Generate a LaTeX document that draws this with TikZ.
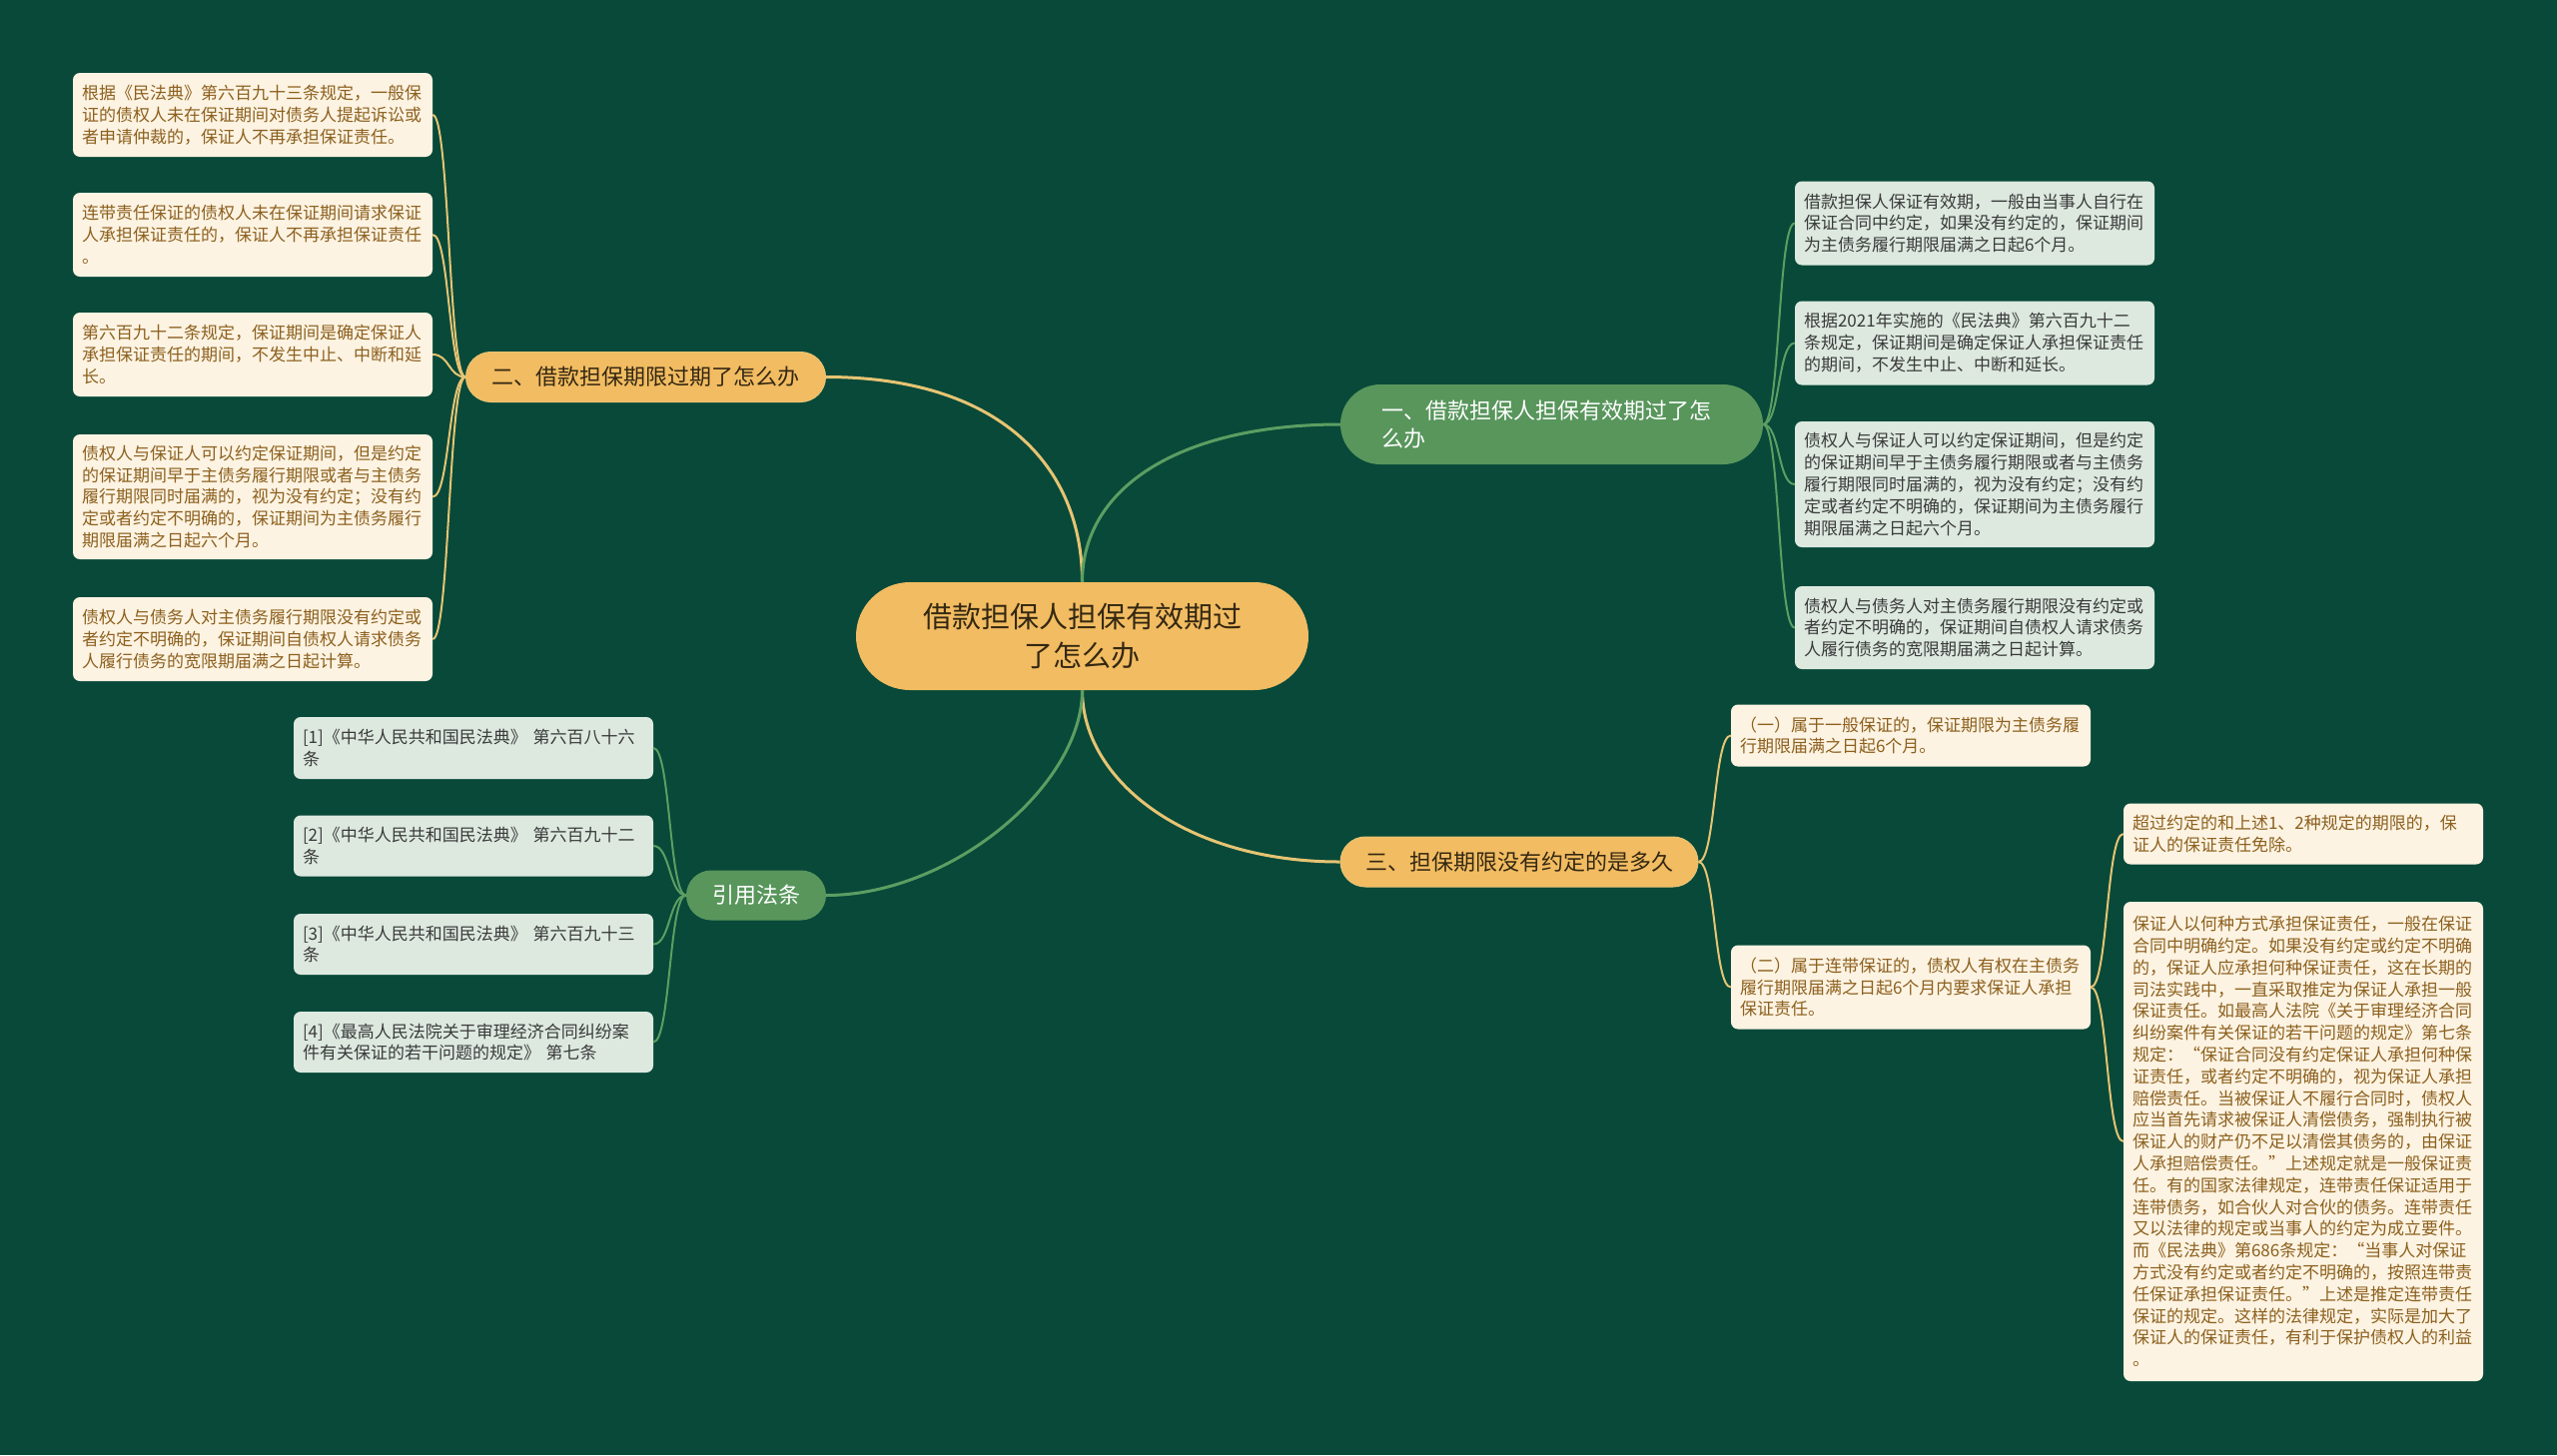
\documentclass[tikz,border=0pt]{standalone}
\usepackage{fontspec}
\newfontfamily\cjk{Noto Sans CJK SC}
\definecolor{bgc}{RGB}{8,73,57}
\definecolor{orangefill}{RGB}{242,188,98}
\definecolor{orangetext}{RGB}{52,40,18}
\definecolor{greenfill}{RGB}{88,150,92}
\definecolor{creamfill}{RGB}{253,243,226}
\definecolor{creamtext}{RGB}{140,96,30}
\definecolor{palefill}{RGB}{221,233,223}
\definecolor{paletext}{RGB}{58,58,58}
\definecolor{lineyel}{RGB}{230,196,115}
\definecolor{linegrn}{RGB}{92,158,98}
\begin{document}
\begin{tikzpicture}[x=1pt,y=-1pt,
  basenode/.style={inner sep=0pt, anchor=center},
  rootnode/.style={basenode, fill=orangefill, text=orangetext, rounded corners=54pt,
    minimum width=453pt, minimum height=108pt, align=center,
    font=\cjk\fontsize{29}{39}\selectfont},
  branchyel/.style={basenode, fill=orangefill, text=orangetext, draw=lineyel, line width=1pt,
    align=center, font=\cjk\fontsize{22}{29}\selectfont},
  branchgrn/.style={basenode, fill=greenfill, text=white,
    font=\cjk\fontsize{22}{28.5}\selectfont},
  leafcream/.style={basenode, fill=creamfill, text=creamtext, rounded corners=7pt,
    text width=342pt, inner xsep=9pt, align=left,
    font=\cjk\fontsize{17}{21.8}\selectfont},
  leafpale/.style={basenode, fill=palefill, text=paletext, rounded corners=7pt,
    text width=342pt, inner xsep=9pt, align=left,
    font=\cjk\fontsize{17}{21.8}\selectfont},
  mainyel/.style={draw=lineyel, line width=3pt},
  maingrn/.style={draw=linegrn, line width=3pt},
  subyel/.style={draw=lineyel, line width=2pt},
  subgrn/.style={draw=linegrn, line width=2pt}
]
\useasboundingbox (0,0) rectangle (2560,1457);
\fill[bgc] (0,0) rectangle (2560,1457);

% root
\node[rootnode] (c) at (1083.5,637) {借款担保人担保有效期过\\了怎么办};

% branches
\node[branchgrn, rounded corners=40pt, minimum height=80pt, text width=341pt, inner xsep=41pt, align=left] (b1) at (1553.5,425) {一、借款担保人担保有效期过了怎\\么办};
\node[branchyel, rounded corners=25pt, minimum width=360pt, minimum height=50pt] (b2) at (646.5,377.5) {二、借款担保期限过期了怎么办};
\node[branchyel, rounded corners=25pt, minimum width=358pt, minimum height=50pt] (b3) at (1521,863) {三、担保期限没有约定的是多久};
\node[branchgrn, rounded corners=25pt, minimum width=140pt, minimum height=50pt, align=center] (rf) at (757,896.5) {引用法条};

% left leaves (branch 2)
\node[leafcream, minimum height=84pt] (l1) at (253,115) {根据《民法典》第六百九十三条规定，一般保\\证的债权人未在保证期间对债务人提起诉讼或\\者申请仲裁的，保证人不再承担保证责任。};
\node[leafcream, minimum height=84pt] (l2) at (253,235) {连带责任保证的债权人未在保证期间请求保证\\人承担保证责任的，保证人不再承担保证责任\\。};
\node[leafcream, minimum height=84pt] (l3) at (253,355) {第六百九十二条规定，保证期间是确定保证人\\承担保证责任的期间，不发生中止、中断和延\\长。};
\node[leafcream, minimum height=125pt] (l4) at (253,497.5) {债权人与保证人可以约定保证期间，但是约定\\的保证期间早于主债务履行期限或者与主债务\\履行期限同时届满的，视为没有约定；没有约\\定或者约定不明确的，保证期间为主债务履行\\期限届满之日起六个月。};
\node[leafcream, minimum height=84pt] (l5) at (253,640) {债权人与债务人对主债务履行期限没有约定或\\者约定不明确的，保证期间自债权人请求债务\\人履行债务的宽限期届满之日起计算。};

% right leaves (branch 1)
\node[leafpale, minimum height=84pt] (r1) at (1977,223.5) {借款担保人保证有效期，一般由当事人自行在\\保证合同中约定，如果没有约定的，保证期间\\为主债务履行期限届满之日起6个月。};
\node[leafpale, minimum height=84pt] (r2) at (1977,343.5) {根据2021年实施的《民法典》第六百九十二\\条规定，保证期间是确定保证人承担保证责任\\的期间，不发生中止、中断和延长。};
\node[leafpale, minimum height=126pt] (r3) at (1977,485) {债权人与保证人可以约定保证期间，但是约定\\的保证期间早于主债务履行期限或者与主债务\\履行期限同时届满的，视为没有约定；没有约\\定或者约定不明确的，保证期间为主债务履行\\期限届满之日起六个月。};
\node[leafpale, minimum height=83pt] (r4) at (1977,628.5) {债权人与债务人对主债务履行期限没有约定或\\者约定不明确的，保证期间自债权人请求债务\\人履行债务的宽限期届满之日起计算。};

% branch 3 children
\node[leafcream, minimum height=62pt] (t1) at (1913,736.5) {（一）属于一般保证的，保证期限为主债务履\\行期限届满之日起6个月。};
\node[leafcream, minimum height=84pt] (t2) at (1913,988.5) {（二）属于连带保证的，债权人有权在主债务\\履行期限届满之日起6个月内要求保证人承担\\保证责任。};
\node[leafcream, minimum height=61pt] (u1) at (2306,835) {超过约定的和上述1、2种规定的期限的，保\\证人的保证责任免除。};
\node[leafcream, minimum height=480pt] (u2) at (2306,1143) {保证人以何种方式承担保证责任，一般在保证\\合同中明确约定。如果没有约定或约定不明确\\的，保证人应承担何种保证责任，这在长期的\\司法实践中，一直采取推定为保证人承担一般\\保证责任。如最高人法院《关于审理经济合同\\纠纷案件有关保证的若干问题的规定》第七条\\规定：“保证合同没有约定保证人承担何种保\\证责任，或者约定不明确的，视为保证人承担\\赔偿责任。当被保证人不履行合同时，债权人\\应当首先请求被保证人清偿债务，强制执行被\\保证人的财产仍不足以清偿其债务的，由保证\\人承担赔偿责任。”上述规定就是一般保证责\\任。有的国家法律规定，连带责任保证适用于\\连带债务，如合伙人对合伙的债务。连带责任\\又以法律的规定或当事人的约定为成立要件。\\而《民法典》第686条规定：“当事人对保证\\方式没有约定或者约定不明确的，按照连带责\\任保证承担保证责任。”上述是推定连带责任\\保证的规定。这样的法律规定，实际是加大了\\保证人的保证责任，有利于保护债权人的利益\\。};

% references
\node[leafpale, minimum height=62pt] (f1) at (474,749) {[1]《中华人民共和国民法典》 第六百八十六\\条};
\node[leafpale, minimum height=61pt] (f2) at (474,847) {[2]《中华人民共和国民法典》 第六百九十二\\条};
\node[leafpale, minimum height=61pt] (f3) at (474,945.5) {[3]《中华人民共和国民法典》 第六百九十三\\条};
\node[leafpale, minimum height=61pt] (f4) at (474,1043.5) {[4]《最高人民法院关于审理经济合同纠纷案\\件有关保证的若干问题的规定》 第七条};

% main connectors
\draw[mainyel] (c.north) .. controls +(0,-115) and +(175,0) .. (b2.east);
\draw[maingrn] (c.north) .. controls +(0,-95) and +(-160,0) .. (b1.west);
\draw[mainyel] (c.south) .. controls +(0,90) and +(-155,0) .. (b3.west);
\draw[maingrn] (c.south) .. controls +(0,95) and +(125,0) .. (rf.east);

% sub connectors
\foreach \n in {l1,l2,l3,l4,l5}
  \draw[subyel] (b2.west) .. controls +(-17,0) and +(17,0) .. (\n.east);
\foreach \n in {r1,r2,r3,r4}
  \draw[subgrn] (b1.east) .. controls +(17,0) and +(-17,0) .. (\n.west);
\foreach \n in {t1,t2}
  \draw[subyel] (b3.east) .. controls +(17,0) and +(-17,0) .. (\n.west);
\foreach \n in {u1,u2}
  \draw[subyel] (t2.east) .. controls +(17,0) and +(-17,0) .. (\n.west);
\foreach \n in {f1,f2,f3,f4}
  \draw[subgrn] (rf.west) .. controls +(-17,0) and +(17,0) .. (\n.east);
\end{tikzpicture}
\end{document}
